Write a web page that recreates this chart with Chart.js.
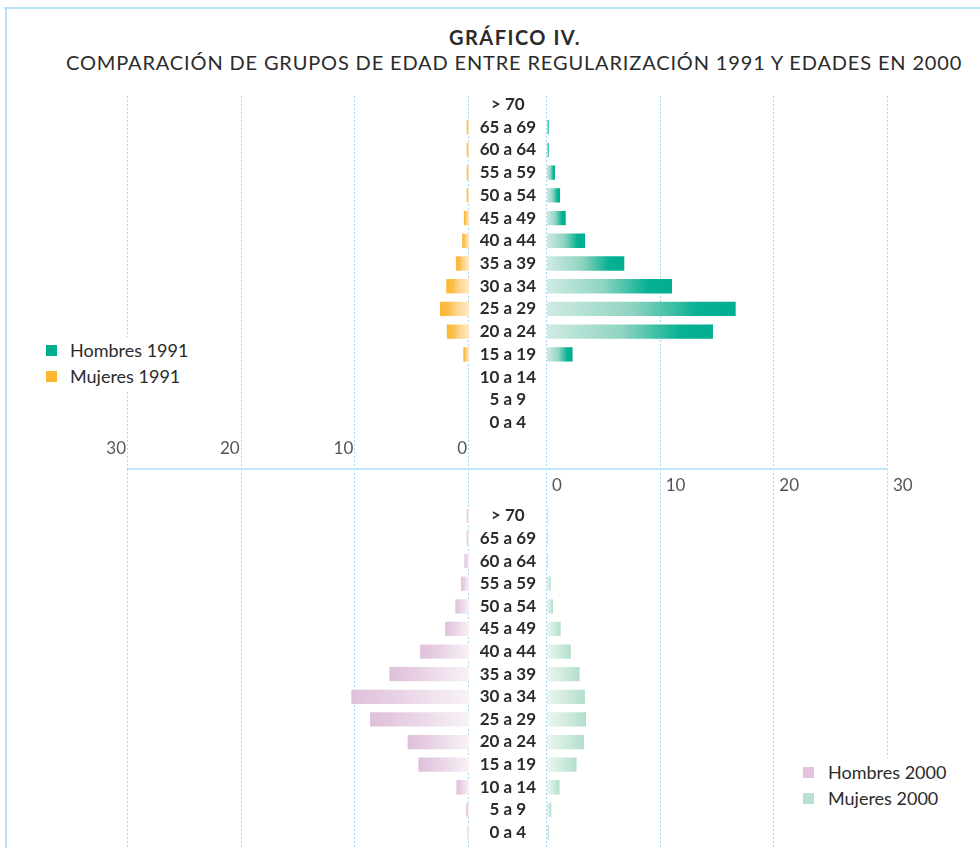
<!DOCTYPE html>
<html>
<head>
<meta charset="utf-8">
<script src="https://cdn.jsdelivr.net/npm/chart.js@4.4.1/dist/chart.umd.min.js"></script>
<style>
  html, body { margin: 0; padding: 0; background: #fff; overflow: hidden; }
  #page { position: relative; width: 980px; height: 848px; overflow: hidden; font-family: Lato, "Open Sans", sans-serif; color: #2b2b2b; }
  .frame-top { position: absolute; left: 4px; top: 7px; width: 976px; height: 2px; background: #b7e2f7; }
  .frame-left { position: absolute; left: 5px; top: 7px; width: 2px; height: 841px; background: #b7e2f7; }
  .title { position: absolute; top: 25px; left: 0; width: 1030px; text-align: center; font-weight: 700; font-size: 20px; letter-spacing: 1.5px; }
  .subtitle { position: absolute; top: 50px; left: 66px; font-size: 20px; letter-spacing: 0.85px; white-space: nowrap; }
  .sep { position: absolute; left: 128px; top: 468px; width: 760px; height: 2px; background: #c2e7f8; z-index: 1; }
  canvas { position: absolute; left: 0; }
  .legend { position: absolute; background: #fff; z-index: 2; }
  .legend .item { position: absolute; font-size: 18px; white-space: nowrap; line-height: 20px; }
  .legend .sw { position: absolute; width: 11px; height: 11px; }
</style>
</head>
<body>
<div id="page">
  <div class="frame-top"></div>
  <div class="frame-left"></div>
  <div class="title">GRÁFICO IV.</div>
  <div class="subtitle">COMPARACIÓN DE GRUPOS DE EDAD ENTRE REGULARIZACIÓN 1991 Y EDADES EN 2000</div>

  <canvas id="cMuj1991" width="980" height="470" style="top:0"></canvas>
  <canvas id="cHom1991" width="980" height="470" style="top:0"></canvas>
  <canvas id="cHom2000" width="980" height="420" style="top:469px"></canvas>
  <canvas id="cMuj2000" width="980" height="420" style="top:469px"></canvas>
  <div class="sep"></div>

  <div class="legend" style="left:40px;top:337px;width:160px;height:55px">
    <div class="sw" style="left:6px;top:8px;background:#00ad8e"></div>
    <div class="item" style="left:30px;top:3px">Hombres 1991</div>
    <div class="sw" style="left:6px;top:34px;background:#fbb82f"></div>
    <div class="item" style="left:30px;top:29px">Mujeres 1991</div>
  </div>
  <div class="legend" style="left:782px;top:758px;width:198px;height:90px">
    <div class="sw" style="left:21px;top:9px;background:#e3c3df"></div>
    <div class="item" style="left:46px;top:4px">Hombres 2000</div>
    <div class="sw" style="left:21px;top:35px;background:#b9e1cf"></div>
    <div class="item" style="left:46px;top:30px">Mujeres 2000</div>
  </div>
</div>

<script>
// Age groups, top to bottom.
const ageGroups = ['> 70', '65 a 69', '60 a 64', '55 a 59', '50 a 54', '45 a 49', '40 a 44', '35 a 39',
  '30 a 34', '25 a 29', '20 a 24', '15 a 19', '10 a 14', '5 a 9', '0 a 4'];

// Percent of each group.
const hombres1991 = [0, 0.15, 0.15, 0.7, 1.15, 1.65, 3.35, 6.8, 11.0, 16.6, 14.6, 2.25, 0, 0, 0];
const mujeres1991 = [0, 0.2, 0.2, 0.2, 0.2, 0.45, 0.6, 1.15, 2.0, 2.55, 1.95, 0.5, 0, 0, 0];
const hombres2000 = [0.2, 0.2, 0.4, 0.7, 1.2, 2.1, 4.3, 7.0, 10.35, 8.7, 5.4, 4.45, 1.1, 0.25, 0.12];
const mujeres2000 = [0.1, 0.1, 0.1, 0.32, 0.53, 1.2, 2.1, 2.87, 3.34, 3.43, 3.25, 2.6, 1.1, 0.38, 0.18];

const axisMax = 30;
const axisStep = 10;

// Each bar gets its own gradient: stop 0 at the base, stop 1 at the tip.
const gradTeal = [[0, '#d0ebe3'], [0.45, '#8fd4c2'], [0.8, '#08b193'], [1, '#00ae90']];
const gradOrange = [[0, '#fee9c6'], [0.45, '#fdd48a'], [0.7, '#fcbd4a'], [1, '#fbb735']];
const gradLilac = [[0, '#f8f2f7'], [0.6, '#e8d2e5'], [1, '#dec0da']];
const gradMint = [[0, '#eaf6f0'], [0.6, '#cbe9db'], [1, '#b3decb']];

function barFill(stops) {
  return ctx => {
    const chart = ctx.chart;
    if (ctx.type !== 'data' || !chart.chartArea) return stops[stops.length - 1][1];
    const sx = chart.scales.x;
    const x0 = sx.getPixelForValue(0), x1 = sx.getPixelForValue(ctx.raw || 0);
    if (Math.abs(x1 - x0) < 0.5) return stops[stops.length - 1][1];
    const g = chart.ctx.createLinearGradient(x0, 0, x1, 0);
    stops.forEach(([o, c]) => g.addColorStop(o, c));
    return g;
  };
}

// Dotted vertical grid lines running through the whole panel, not just the chart area.
const fullGrid = {
  id: 'fullGrid',
  beforeDatasetsDraw(chart, args, opts) {
    const sx = chart.scales.x, c = chart.ctx;
    c.save();
    c.strokeStyle = opts.color;
    c.lineWidth = 1;
    c.setLineDash([2, 2]);
    sx.ticks.forEach(t => {
      const x = Math.round(sx.getPixelForValue(t.value)) - 0.5;
      c.beginPath(); c.moveTo(x, opts.top); c.lineTo(x, opts.bottom); c.stroke();
    });
    c.restore();
  }
};

const fixSize = size => scale => {
  if (scale.isHorizontal()) scale.height = size; else scale.width = size;
  scale.paddingTop = scale.paddingBottom = scale.paddingLeft = scale.paddingRight = 0;
};

const tickFont = { family: 'Lato', size: 17 };
const labelFont = { family: 'Lato', size: 17, weight: 'bold' };

function makeChart(id, cfg) {
  const xAxis = {
    type: 'linear', min: 0, max: axisMax, reverse: cfg.left, position: cfg.top ? 'bottom' : 'top',
    afterFit: fixSize(cfg.top ? 36.1 : 35.5),
    grid: { display: false, drawTicks: false }, border: { display: false },
    ticks: {
      stepSize: axisStep, display: cfg.showTicks, color: '#555', font: tickFont,
      align: cfg.left ? 'end' : 'start', labelOffset: cfg.left ? -2 : 5, padding: cfg.top ? 4 : 8.3,
    },
  };
  const yAxis = {
    type: 'category', display: !cfg.left, position: 'left',
    afterFit: fixSize(cfg.left ? 0 : 78),
    grid: { display: false, drawTicks: false }, border: { display: false },
    ticks: { color: '#2b2b2b', font: labelFont, crossAlign: 'center', padding: 11, autoSkip: false },
  };
  return new Chart(document.getElementById(id), {
    type: 'bar',
    data: {
      labels: ageGroups,
      datasets: [{ label: cfg.label, data: cfg.data, backgroundColor: barFill(cfg.grad), borderWidth: 0,
        barPercentage: 0.63, categoryPercentage: 1 }],
    },
    options: {
      indexAxis: 'y',
      responsive: false,
      devicePixelRatio: 1,
      animation: false,
      events: [],
      layout: { padding: cfg.left
        ? { left: 128, right: 511, top: cfg.top ? 93.1 : 0, bottom: cfg.top ? 0 : 45.2 }
        : { left: 469, right: 92, top: cfg.top ? 93.1 : 0, bottom: cfg.top ? 0 : 45.2 } },
      plugins: {
        legend: { display: false }, tooltip: { enabled: false },
        fullGrid: { color: '#a6d9f1', top: cfg.top ? 96 : 0, bottom: cfg.top ? 470 : 420 },
      },
      scales: { x: xAxis, y: yAxis },
    },
    plugins: [fullGrid],
  });
}

makeChart('cMuj1991', { label: 'Mujeres 1991', data: mujeres1991, grad: gradOrange, left: true, top: true, showTicks: true });
makeChart('cHom1991', { label: 'Hombres 1991', data: hombres1991, grad: gradTeal, left: false, top: true, showTicks: false });
makeChart('cHom2000', { label: 'Hombres 2000', data: hombres2000, grad: gradLilac, left: true, top: false, showTicks: false });
makeChart('cMuj2000', { label: 'Mujeres 2000', data: mujeres2000, grad: gradMint, left: false, top: false, showTicks: true });
</script>
</body>
</html>
